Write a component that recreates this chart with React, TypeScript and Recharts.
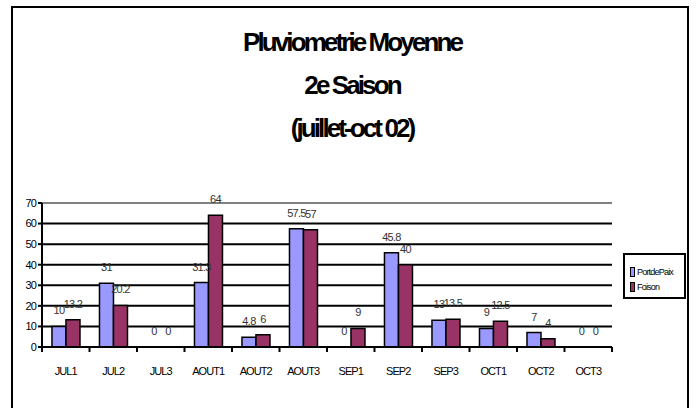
import React from "react";
import {
  Bar,
  BarChart,
  CartesianGrid,
  LabelList,
  ReferenceLine,
  XAxis,
  YAxis,
} from "recharts";

const categories = ["JUL1", "JUL2", "JUL3", "AOUT1", "AOUT2", "AOUT3", "SEP1", "SEP2", "SEP3", "OCT1", "OCT2", "OCT3"];
const portDePaix = [10, 31, 0, 31.3, 4.8, 57.5, 0, 45.8, 13, 9, 7, 0];
const foison = [13.2, 20.2, 0, 64, 6, 57, 9, 40, 13.5, 12.5, 4, 0];
const yTicks = [0, 10, 20, 30, 40, 50, 60, 70];
const titleLines = ["Pluviometrie Moyenne", "2e Saison", "(juillet-oct 02)"];

const series = [
  { key: "PortdePaix", color: "#9999FF" },
  { key: "Foison", color: "#993366" },
];

const data = categories.map((c, i) => ({ label: c, PortdePaix: portDePaix[i], Foison: foison[i] }));

const font = "'Liberation Sans', Arial, sans-serif";
const W = 696;
const H = 408;
const plotLeft = 42;
const plotRight = 612;
const band = (plotRight - plotLeft) / categories.length;

function CatTick(props: any) {
  const { x, y, payload } = props;
  return (
    <g>
      <line x1={x - band / 2} x2={x - band / 2} y1={y - 8} y2={y - 3} stroke="#000" strokeWidth={2} />
      {payload.index === categories.length - 1 && (
        <line x1={x + band / 2} x2={x + band / 2} y1={y - 8} y2={y - 3} stroke="#000" strokeWidth={2} />
      )}
      <text x={x} y={y + 20} textAnchor="middle" fontSize={11} fontFamily={font} letterSpacing={-0.9} fill="#000">
        {payload.value}
      </text>
    </g>
  );
}

function LegendBox() {
  return (
    <div
      style={{
        position: "absolute",
        left: 623,
        top: 253,
        border: "2px solid #000",
        width: 63,
        height: 46,
        boxSizing: "border-box",
        padding: "9px 0 0 5px",
        fontFamily: font,
        fontSize: 9,
        letterSpacing: -0.8,
        background: "#fff",
      }}
    >
      {series.map((s) => (
        <div key={s.key} style={{ display: "flex", alignItems: "center", height: 15 }}>
          <span
            style={{ display: "inline-block", width: 3, height: 8, background: s.color, border: "1px solid #000", marginRight: 2 }}
          />
          {s.key}
        </div>
      ))}
    </div>
  );
}

export default function App() {
  return (
    <div style={{ position: "absolute", left: 0, top: 0, width: W, height: H, overflow: "hidden", background: "#fff" }}>
      <div
        style={{
          position: "absolute",
          left: 11,
          top: 6,
          width: 678,
          height: 430,
          border: "2px solid #000",
          boxSizing: "border-box",
        }}
      />
      <div
        style={{
          position: "absolute",
          left: 0,
          top: 21,
          width: 704,
          textAlign: "center",
          fontFamily: font,
          fontWeight: "bold",
          fontSize: 26,
          letterSpacing: -2.9,
          lineHeight: "43px",
          color: "#000",
        }}
      >
        {titleLines.map((t) => (
          <div key={t}>{t}</div>
        ))}
      </div>
      <div style={{ position: "absolute", left: 0, top: 0 }}>
        <BarChart
          width={W}
          height={H}
          data={data}
          margin={{ top: 203, right: 84, left: 12, bottom: 31 }}
          barCategoryGap="21%"
          barGap={0}
        >
          <CartesianGrid yAxisId="l" stroke="#000" strokeWidth={2} vertical={false} />
          <XAxis
            dataKey="label"
            tickLine={false}
            axisLine={{ stroke: "#000", strokeWidth: 2 }}
            tick={<CatTick />}
            interval={0}
            height={30}
          />
          <YAxis
            yAxisId="l"
            domain={[0, 70]}
            ticks={yTicks}
            interval={0}
            width={30}
            axisLine={{ stroke: "#000", strokeWidth: 2 }}
            tickLine={{ stroke: "#000", strokeWidth: 2 }}
            tickSize={4}
            tick={{ fontSize: 11, fontFamily: font, fill: "#000", letterSpacing: -0.9 }}
          />
          <YAxis
            yAxisId="r"
            orientation="right"
            domain={[0, 70]}
            width={0}
            tick={false}
            tickLine={false}
            axisLine={{ stroke: "#808080", strokeWidth: 2 }}
          />
          <ReferenceLine yAxisId="l" y={70} stroke="#808080" strokeWidth={2} />
          {series.map((s) => (
            <Bar
              key={s.key}
              yAxisId="l"
              dataKey={s.key}
              fill={s.color}
              stroke="#000"
              strokeWidth={1.5}
              minPointSize={0.01}
              isAnimationActive={false}
            >
              <LabelList
                dataKey={s.key}
                position="top"
                offset={12}
                fontSize={11}
                fontFamily={font}
                letterSpacing={-0.7}
                fill="#333"
                formatter={(v: any) => String(v)}
              />
            </Bar>
          ))}
        </BarChart>
      </div>
      <LegendBox />
    </div>
  );
}
